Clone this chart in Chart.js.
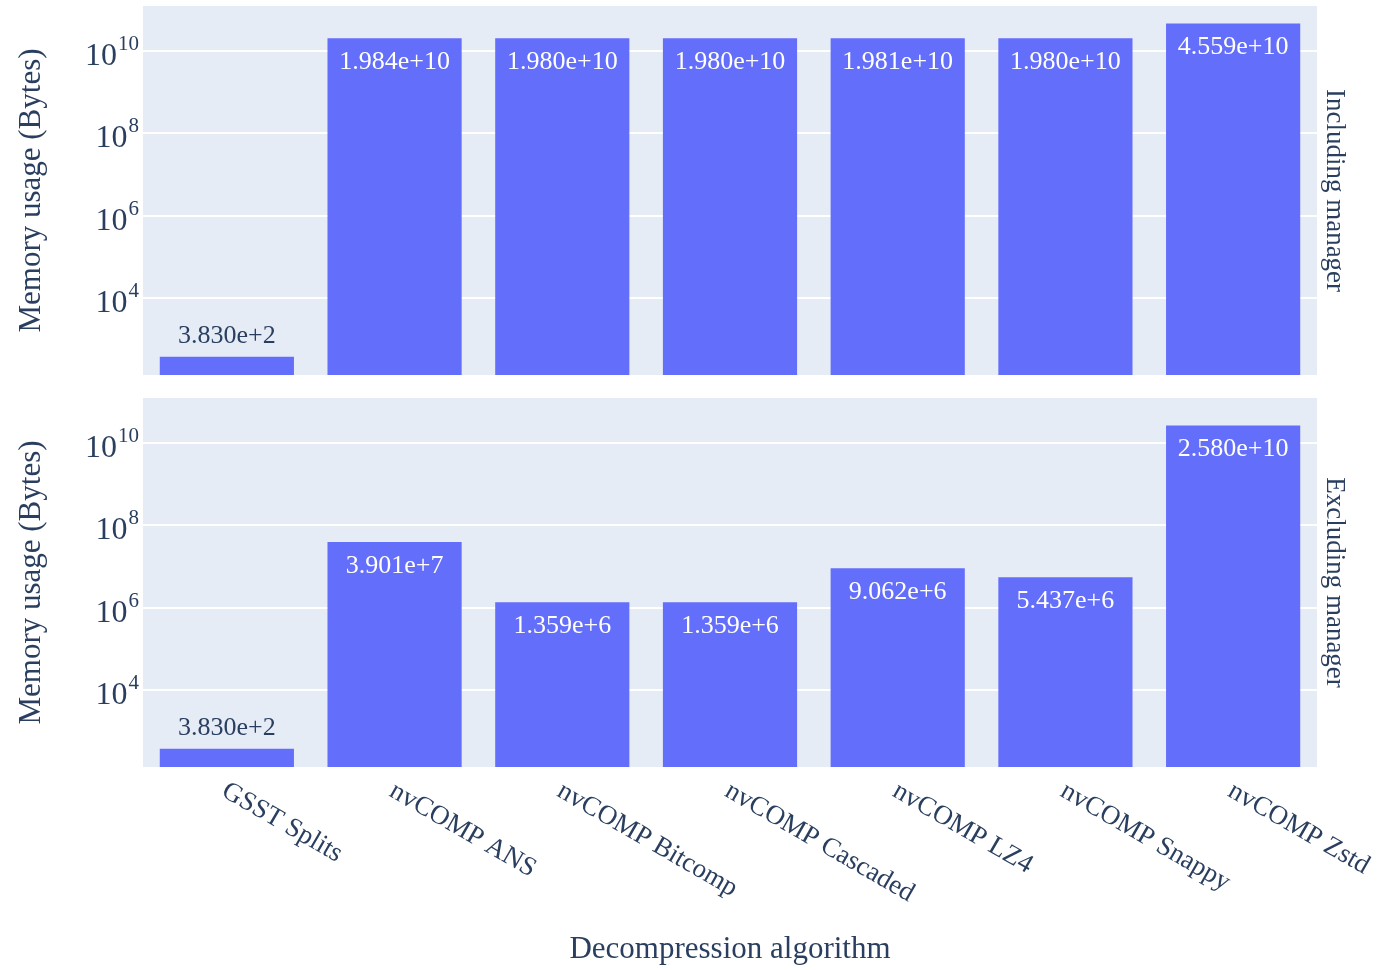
<!DOCTYPE html>
<html>
<head>
<meta charset="utf-8">
<title>Memory usage by decompression algorithm</title>
<script src="https://cdn.jsdelivr.net/npm/chart.js@4/dist/chart.umd.min.js"></script>
<style>
    html, body { margin: 0; padding: 0; background: #ffffff; }
    #wrap { position: relative; width: 1391px; height: 970px; }
    #topChart { position: absolute; left: 0; top: 0; }
    #bottomChart { position: absolute; left: 0; top: 390px; }
</style>
</head>
<body>
<div id="wrap">
    <canvas id="topChart" width="1391" height="390"></canvas>
    <canvas id="bottomChart" width="1391" height="580"></canvas>
</div>
<script>
// Data
const categories = ['GSST Splits', 'nvCOMP ANS', 'nvCOMP Bitcomp', 'nvCOMP Cascaded', 'nvCOMP LZ4', 'nvCOMP Snappy', 'nvCOMP Zstd'];
const includingManager = [383, 1.984e10, 1.980e10, 1.980e10, 1.981e10, 1.980e10, 4.559e10];
const excludingManager = [383, 3.901e7, 1.359e6, 1.359e6, 9.062e6, 5.437e6, 2.580e10];
const tickExponents = [4, 6, 8, 10];
const axisMinExp = 2.14;
const axisMaxExp = 11.08;

const SERIF = '"Liberation Serif", "Times New Roman", serif';
const TEXT_COLOR = '#2a3f5f';
const BAR_COLOR = '#636efa';
const PLOT_BG = '#e5ecf6';

document.addEventListener('DOMContentLoaded', () => {

    // Fill the plot area like plotly does
    const plotBackground = {
        id: 'plotBackground',
        beforeDraw: (chart) => {
            const { ctx, chartArea: a } = chart;
            ctx.save();
            ctx.fillStyle = PLOT_BG;
            ctx.fillRect(a.left, a.top, a.right - a.left, a.bottom - a.top);
            ctx.restore();
        }
    };

    // Tick labels with superscripts, titles and bar values
    const decorations = {
        id: 'decorations',
        afterDraw: (chart, args, opts) => {
            const { ctx, chartArea: a } = chart;
            const yScale = chart.scales.y;
            const xScale = chart.scales.x;
            ctx.save();
            ctx.fillStyle = TEXT_COLOR;

            // y tick labels: 10^n
            tickExponents.forEach(exp => {
                const y = yScale.getPixelForValue(Math.pow(10, exp));
                const sup = String(exp);
                ctx.font = '21px ' + SERIF;
                const supW = ctx.measureText(sup).width;
                const right = a.left - 4;
                ctx.textAlign = 'right';
                ctx.textBaseline = 'alphabetic';
                ctx.fillText(sup, right, y - 1);
                ctx.font = '32px ' + SERIF;
                ctx.fillText('10', right - supW - 1, y + 14);
            });

            // y axis title
            ctx.save();
            ctx.translate(32, (a.top + a.bottom) / 2);
            ctx.rotate(-Math.PI / 2);
            ctx.font = '31px ' + SERIF;
            ctx.textAlign = 'center';
            ctx.textBaseline = 'middle';
            ctx.fillText('Memory usage (Bytes)', 0, 0);
            ctx.restore();

            // facet title on the right
            ctx.save();
            ctx.translate(1334, (a.top + a.bottom) / 2);
            ctx.rotate(Math.PI / 2);
            ctx.font = '27px ' + SERIF;
            ctx.textAlign = 'center';
            ctx.textBaseline = 'middle';
            ctx.fillText(opts.sideTitle, 0, 0);
            ctx.restore();

            // bar value labels
            const meta = chart.getDatasetMeta(0);
            const values = chart.data.datasets[0].data;
            ctx.font = '26px ' + SERIF;
            ctx.textAlign = 'center';
            ctx.textBaseline = 'middle';
            meta.data.forEach((bar, i) => {
                const label = values[i].toExponential(3);
                const height = bar.base - bar.y;
                if (height > 44) {
                    ctx.fillStyle = '#ffffff';
                    ctx.fillText(label, bar.x, bar.y + 24);
                } else {
                    ctx.fillStyle = TEXT_COLOR;
                    ctx.fillText(label, bar.x, bar.y - 21);
                }
            });

            // category labels and x title (bottom panel only)
            if (opts.showX) {
                ctx.fillStyle = TEXT_COLOR;
                ctx.font = '27px ' + SERIF;
                ctx.textAlign = 'left';
                ctx.textBaseline = 'middle';
                categories.forEach((cat, i) => {
                    const x = xScale.getPixelForValue(i);
                    ctx.save();
                    ctx.translate(x - 3, a.bottom + 22);
                    ctx.rotate(Math.PI / 6);
                    ctx.fillText(cat, 0, 0);
                    ctx.restore();
                });
                ctx.font = '31px ' + SERIF;
                ctx.textAlign = 'center';
                ctx.fillText('Decompression algorithm', (a.left + a.right) / 2, 560);
            }
            ctx.restore();
        }
    };

    const makePanel = (canvasId, values, sideTitle, showX, padding) => {
        const canvas = document.getElementById(canvasId);
        return new Chart(canvas.getContext('2d'), {
            type: 'bar',
            data: {
                labels: categories,
                datasets: [{
                    data: values,
                    backgroundColor: BAR_COLOR,
                    borderWidth: 0,
                    barPercentage: 0.8,
                    categoryPercentage: 1.0
                }]
            },
            options: {
                responsive: false,
                animation: false,
                devicePixelRatio: 1,
                layout: { padding: padding },
                plugins: {
                    legend: { display: false },
                    tooltip: { enabled: false },
                    decorations: { sideTitle: sideTitle, showX: showX }
                },
                scales: {
                    x: {
                        display: false
                    },
                    y: {
                        type: 'logarithmic',
                        min: Math.pow(10, axisMinExp),
                        max: Math.pow(10, axisMaxExp),
                        afterBuildTicks: (scale) => {
                            scale.ticks = tickExponents.map(e => ({ value: Math.pow(10, e) }));
                        },
                        ticks: { display: false },
                        border: { display: false },
                        grid: {
                            color: '#ffffff',
                            lineWidth: 2,
                            drawTicks: false
                        }
                    }
                }
            },
            plugins: [plotBackground, decorations]
        });
    };

    makePanel('topChart', includingManager, 'Including manager', false,
        { left: 143, right: 74, top: 6, bottom: 15 });
    makePanel('bottomChart', excludingManager, 'Excluding manager', true,
        { left: 143, right: 74, top: 8, bottom: 203 });
});
</script>
</body>
</html>
